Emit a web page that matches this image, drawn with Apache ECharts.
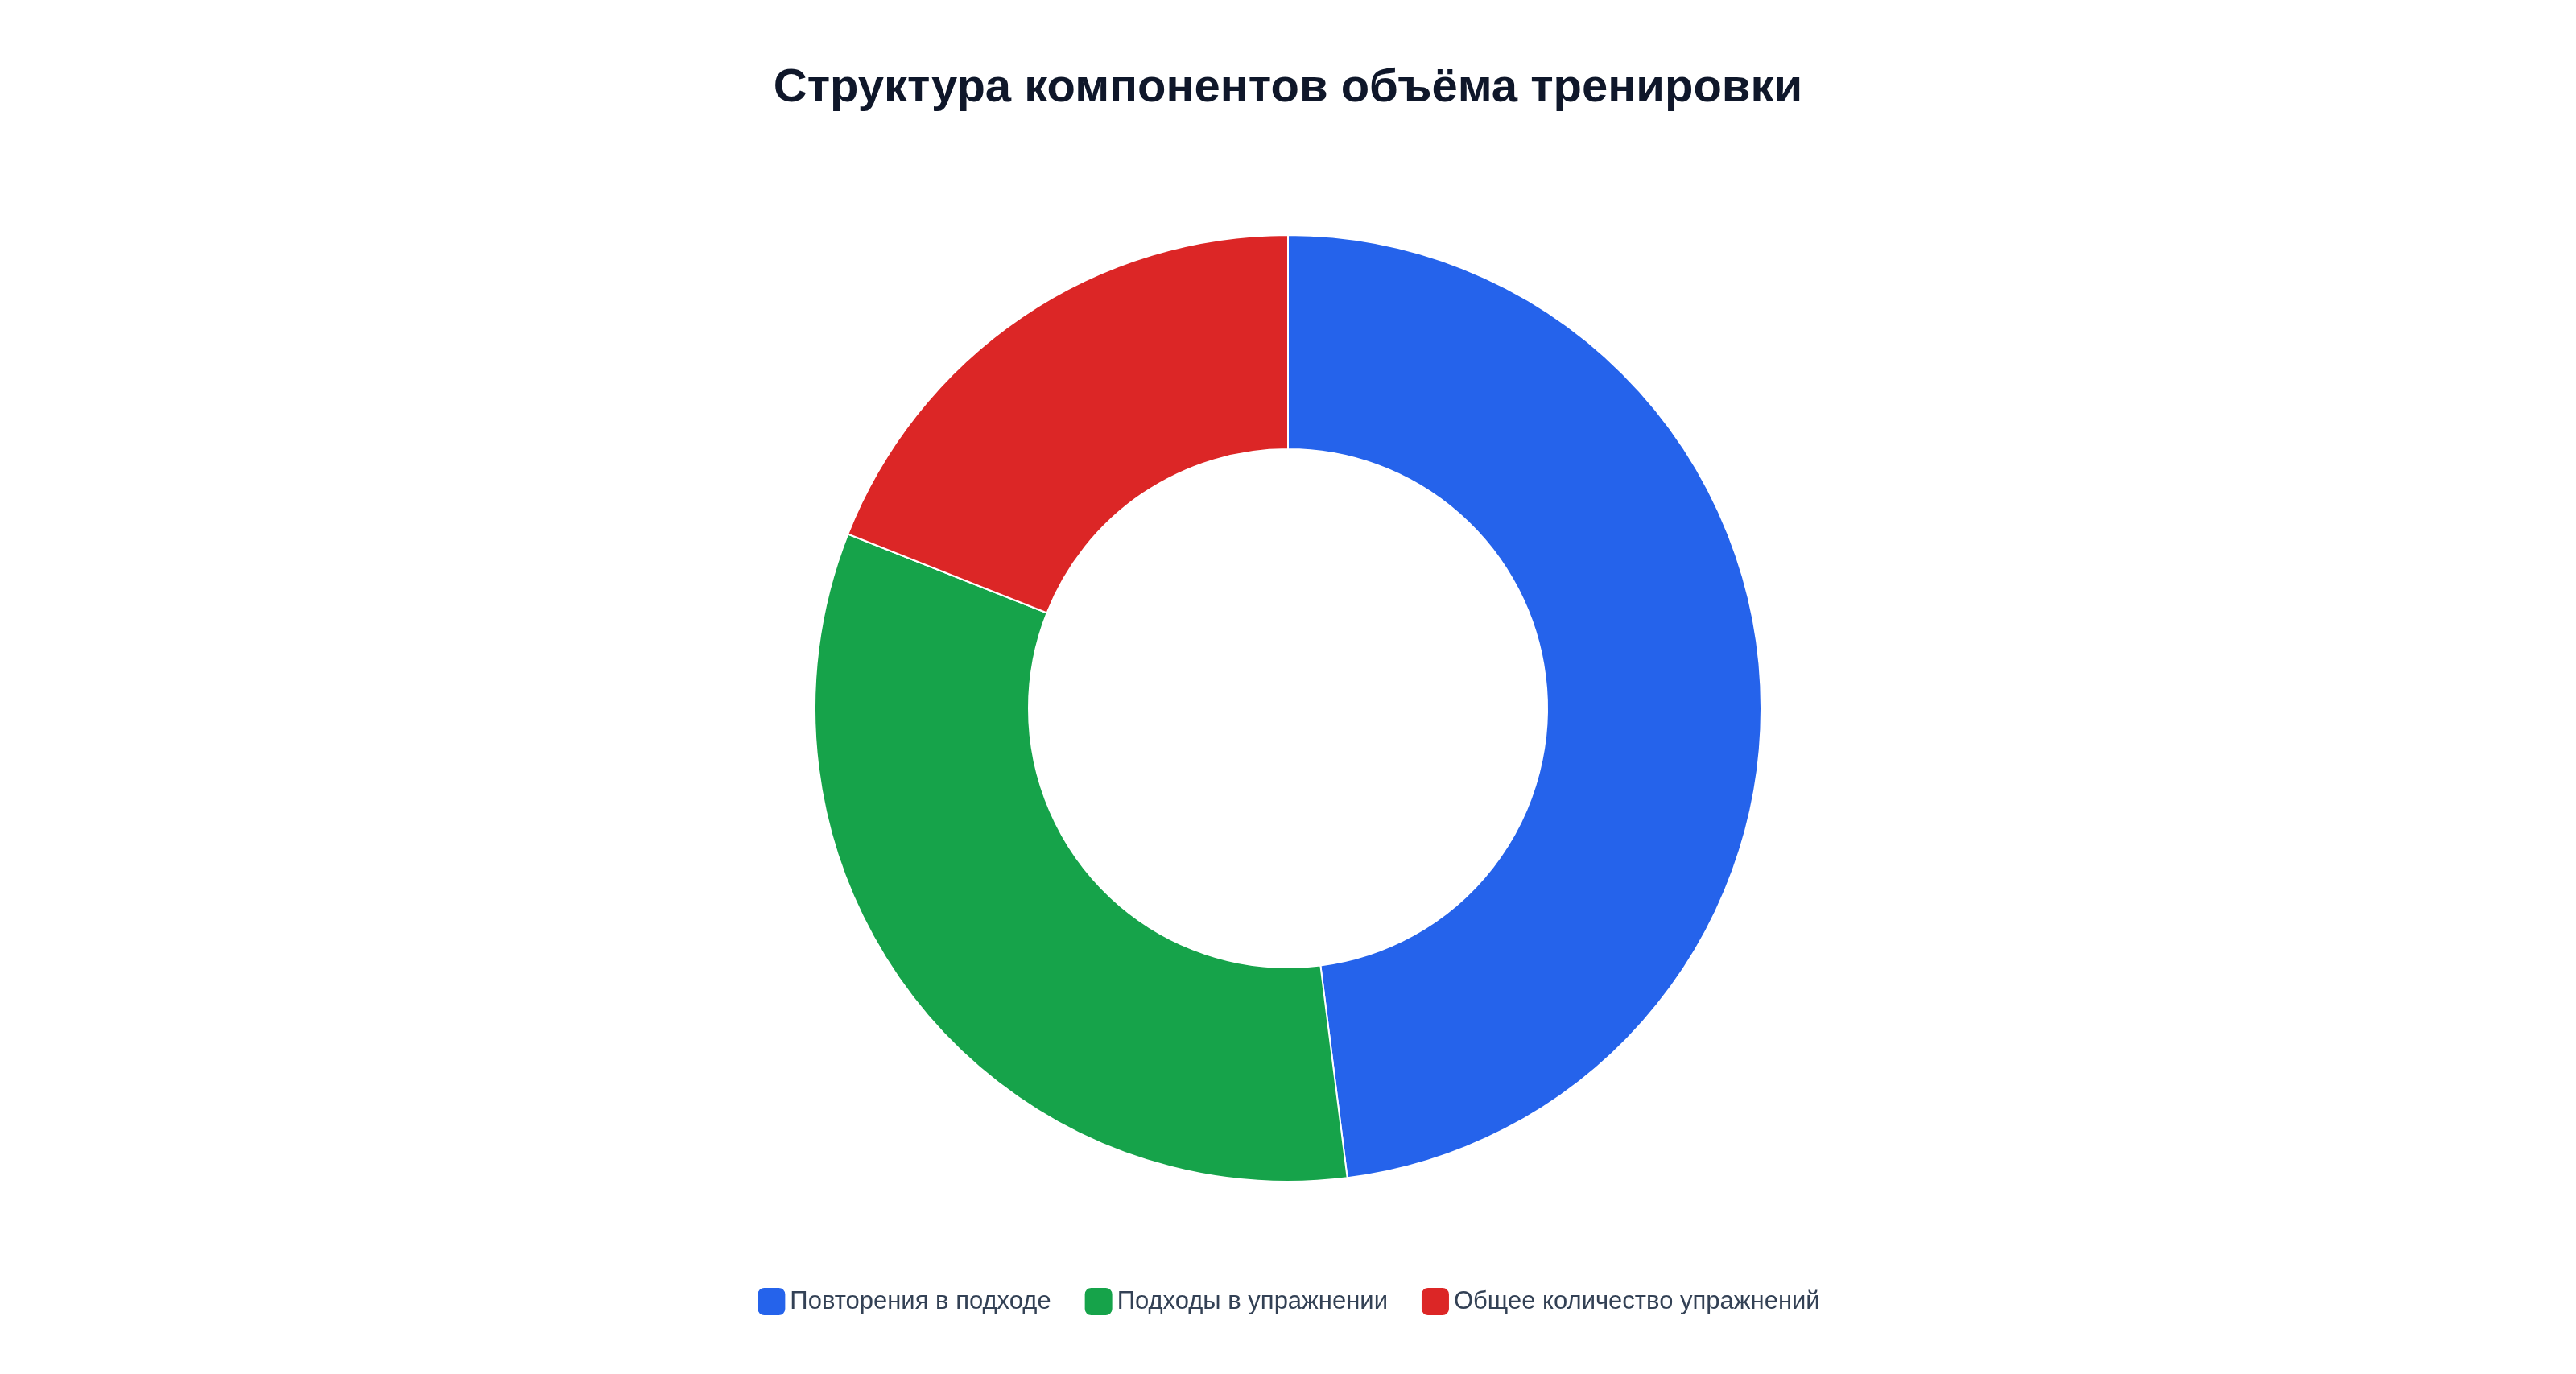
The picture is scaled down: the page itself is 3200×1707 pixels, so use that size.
<!DOCTYPE html>
<html>
<head>
<meta charset="utf-8">
<script src="https://cdn.jsdelivr.net/npm/echarts@6/dist/echarts.min.js"></script>
<style>html,body{margin:0;padding:0;background:#fff}#chart{width:3200px;height:1707px}</style>
</head>
<body>
<div id="chart"></div>
<script>
var categories = ['Повторения в подходе', 'Подходы в упражнении', 'Общее количество упражнений'];
var values = [48, 33, 19];
var colors = ['#2563eb', '#16a34a', '#dc2626'];

var data = [];
for (var i = 0; i < categories.length; i++) {
    data.push({ name: categories[i], value: values[i], itemStyle: { color: colors[i] } });
}

var myChart = echarts.init(document.getElementById('chart'));
myChart.setOption({
    title: {
        text: 'Структура компонентов объёма тренировки',
        left: 'center',
        top: 76,
        textStyle: { fontFamily: 'Liberation Sans, Arial', fontSize: 58, fontWeight: 'bold', color: '#0f172a' }
    },
    legend: {
        bottom: 66,
        left: 'center',
        icon: 'roundRect',
        itemWidth: 36,
        itemHeight: 36,
        itemGap: 40,
        textStyle: { fontFamily: 'Liberation Sans, Arial', fontSize: 31, color: '#334155' },
        data: categories
    },
    series: [{
        type: 'pie',
        center: ['50%', 880],
        radius: [322, 588],
        startAngle: 90,
        label: { show: false },
        labelLine: { show: false },
        itemStyle: { borderColor: '#fff', borderWidth: 2 },
        data: data
    }]
});
</script>
</body>
</html>
